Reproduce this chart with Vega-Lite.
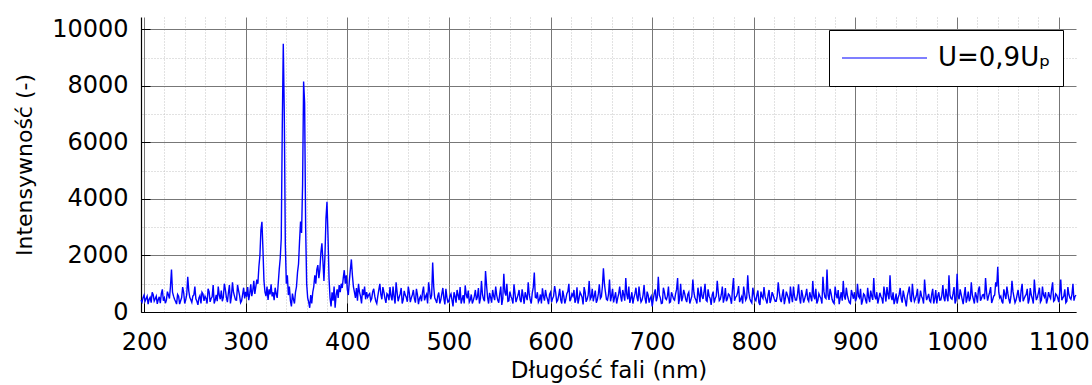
{
"$schema": "https://vega.github.io/schema/vega-lite/v6.json",
"width": 935, "height": 295,
"autosize": {"type": "none"},
"padding": {"left": 141, "top": 17, "right": 16, "bottom": 73},
"background": "white",
"config": {"view": {"stroke": null}, "font": "DejaVu Sans"},
"data": {"values": [
{"nm":197,"I":420},{"nm":199,"I":510},{"nm":201,"I":380},{"nm":203,"I":560},{"nm":205,"I":450},{"nm":207,"I":330},{"nm":209,"I":610},{"nm":211,"I":470},{"nm":213,"I":290},{"nm":215,"I":540},{"nm":217,"I":650},{"nm":219,"I":400},{"nm":221,"I":310},{"nm":223,"I":720},{"nm":225,"I":480},{"nm":227,"I":1500},{"nm":229,"I":560},{"nm":231,"I":370},{"nm":233,"I":620},{"nm":235,"I":280},{"nm":237,"I":510},{"nm":239,"I":690},{"nm":241,"I":430},{"nm":243,"I":1250},{"nm":245,"I":520},{"nm":247,"I":340},{"nm":249,"I":600},{"nm":251,"I":470},{"nm":253,"I":250},{"nm":255,"I":580},{"nm":257,"I":700},{"nm":259,"I":390},{"nm":261,"I":480},{"nm":263,"I":820},{"nm":265,"I":360},{"nm":267,"I":540},{"nm":269,"I":300},{"nm":271,"I":610},{"nm":273,"I":900},{"nm":275,"I":450},{"nm":277,"I":380},{"nm":279,"I":1000},{"nm":281,"I":520},{"nm":283,"I":680},{"nm":285,"I":300},{"nm":287,"I":1050},{"nm":289,"I":560},{"nm":291,"I":420},{"nm":293,"I":760},{"nm":295,"I":330},{"nm":297,"I":620},{"nm":299,"I":480},
{"nm":300,"I":710},{"nm":301,"I":540},{"nm":302,"I":880},{"nm":303,"I":420},{"nm":304,"I":650},{"nm":305,"I":980},{"nm":306,"I":560},{"nm":307,"I":760},{"nm":308,"I":1100},{"nm":309,"I":640},{"nm":310,"I":900},{"nm":311,"I":1150},{"nm":312,"I":1000},{"nm":313,"I":1600},{"nm":314,"I":2000},{"nm":315,"I":2900},{"nm":316,"I":3190},{"nm":317,"I":2200},{"nm":318,"I":1100},{"nm":319,"I":700},{"nm":320,"I":560},{"nm":321,"I":900},{"nm":322,"I":430},{"nm":323,"I":800},{"nm":324,"I":620},{"nm":325,"I":980},{"nm":326,"I":550},{"nm":327,"I":700},{"nm":328,"I":420},{"nm":329,"I":860},{"nm":330,"I":640},{"nm":331,"I":500},{"nm":332,"I":1000},{"nm":333,"I":1500},{"nm":334,"I":1900},{"nm":335,"I":2600},{"nm":336,"I":6500},{"nm":337,"I":9490},{"nm":338,"I":7000},{"nm":339,"I":2400},{"nm":340,"I":1000},{"nm":341,"I":1300},{"nm":342,"I":600},{"nm":343,"I":900},{"nm":344,"I":400},{"nm":345,"I":200},{"nm":346,"I":650},{"nm":347,"I":450},{"nm":348,"I":300},{"nm":349,"I":700},{"nm":350,"I":900},{"nm":351,"I":1400},{"nm":352,"I":1700},{"nm":353,"I":2500},{"nm":354,"I":3200},{"nm":355,"I":2800},{"nm":356,"I":4500},{"nm":357,"I":8160},{"nm":358,"I":7400},{"nm":359,"I":3000},{"nm":360,"I":1000},{"nm":361,"I":500},{"nm":362,"I":350},{"nm":363,"I":150},{"nm":364,"I":600},{"nm":365,"I":300},{"nm":366,"I":700},{"nm":367,"I":900},{"nm":368,"I":1300},{"nm":369,"I":1000},{"nm":370,"I":1500},{"nm":371,"I":1660},{"nm":372,"I":1200},{"nm":373,"I":1500},{"nm":374,"I":2100},{"nm":375,"I":2430},{"nm":376,"I":1800},{"nm":377,"I":1100},{"nm":378,"I":2000},{"nm":379,"I":3300},{"nm":380,"I":3900},{"nm":381,"I":2700},{"nm":382,"I":1200},{"nm":383,"I":500},{"nm":384,"I":200},{"nm":385,"I":700},{"nm":386,"I":400},{"nm":387,"I":900},{"nm":388,"I":150},{"nm":389,"I":600},{"nm":390,"I":800},{"nm":391,"I":500},{"nm":392,"I":950},{"nm":393,"I":700},{"nm":394,"I":1000},{"nm":395,"I":850},{"nm":396,"I":1200},{"nm":397,"I":1480},{"nm":398,"I":1000},{"nm":399,"I":1300},{"nm":400,"I":800},{"nm":401,"I":600},{"nm":402,"I":1100},{"nm":403,"I":1500},{"nm":404,"I":1860},{"nm":405,"I":1300},{"nm":406,"I":900},{"nm":407,"I":700},{"nm":408,"I":500},{"nm":409,"I":850},{"nm":410,"I":400},{"nm":411,"I":1000},{"nm":412,"I":700},{"nm":413,"I":550},{"nm":414,"I":300},{"nm":415,"I":800},{"nm":416,"I":600},{"nm":417,"I":900},{"nm":418,"I":450},{"nm":419,"I":700},{"nm":420,"I":520},
{"nm":422,"I":650},{"nm":424,"I":480},{"nm":426,"I":820},{"nm":428,"I":390},{"nm":430,"I":560},{"nm":432,"I":1000},{"nm":434,"I":450},{"nm":436,"I":700},{"nm":438,"I":320},{"nm":440,"I":600},{"nm":442,"I":880},{"nm":444,"I":410},{"nm":446,"I":530},{"nm":448,"I":1050},{"nm":450,"I":380},{"nm":452,"I":640},{"nm":454,"I":300},{"nm":456,"I":750},{"nm":458,"I":520},{"nm":460,"I":900},{"nm":462,"I":350},{"nm":464,"I":610},{"nm":466,"I":470},{"nm":468,"I":820},{"nm":470,"I":280},
{"nm":472,"I":560},{"nm":474,"I":700},{"nm":476,"I":410},{"nm":478,"I":630},{"nm":480,"I":1050},{"nm":482,"I":450},{"nm":484,"I":1750},{"nm":486,"I":500},{"nm":488,"I":320},{"nm":490,"I":690},{"nm":492,"I":430},{"nm":494,"I":850},{"nm":496,"I":270},{"nm":498,"I":520},{"nm":500,"I":380},{"nm":502,"I":640},{"nm":504,"I":200},{"nm":506,"I":560},{"nm":508,"I":780},{"nm":510,"I":420},{"nm":512,"I":300},{"nm":514,"I":600},{"nm":516,"I":940},{"nm":518,"I":480},{"nm":520,"I":350},
{"nm":522,"I":620},{"nm":524,"I":410},{"nm":526,"I":780},{"nm":528,"I":530},{"nm":530,"I":300},{"nm":532,"I":1100},{"nm":534,"I":460},{"nm":536,"I":1450},{"nm":538,"I":520},{"nm":540,"I":680},{"nm":542,"I":330},{"nm":544,"I":560},{"nm":546,"I":900},{"nm":548,"I":420},{"nm":550,"I":640},{"nm":552,"I":250},{"nm":554,"I":1350},{"nm":556,"I":580},{"nm":558,"I":380},{"nm":560,"I":720},{"nm":562,"I":460},{"nm":564,"I":980},{"nm":566,"I":350},{"nm":568,"I":600},{"nm":570,"I":430},
{"nm":572,"I":800},{"nm":574,"I":290},{"nm":576,"I":550},{"nm":578,"I":1050},{"nm":580,"I":430},{"nm":582,"I":680},{"nm":584,"I":1400},{"nm":586,"I":500},{"nm":588,"I":350},{"nm":590,"I":620},{"nm":592,"I":840},{"nm":594,"I":400},{"nm":596,"I":560},{"nm":598,"I":280},{"nm":600,"I":700},{"nm":602,"I":480},{"nm":604,"I":920},{"nm":606,"I":360},{"nm":608,"I":590},{"nm":610,"I":430},{"nm":612,"I":760},{"nm":614,"I":300},{"nm":616,"I":650},{"nm":618,"I":1000},{"nm":620,"I":470},
{"nm":622,"I":560},{"nm":624,"I":330},{"nm":626,"I":870},{"nm":628,"I":480},{"nm":630,"I":620},{"nm":632,"I":270},{"nm":634,"I":700},{"nm":636,"I":450},{"nm":638,"I":1100},{"nm":640,"I":520},{"nm":642,"I":380},{"nm":644,"I":760},{"nm":646,"I":430},{"nm":648,"I":980},{"nm":650,"I":540},{"nm":652,"I":1550},{"nm":654,"I":700},{"nm":656,"I":420},{"nm":658,"I":1150},{"nm":660,"I":560},{"nm":662,"I":340},{"nm":664,"I":700},{"nm":666,"I":480},{"nm":668,"I":900},{"nm":670,"I":370},
{"nm":672,"I":610},{"nm":674,"I":1200},{"nm":676,"I":450},{"nm":678,"I":320},{"nm":680,"I":700},{"nm":682,"I":500},{"nm":684,"I":860},{"nm":686,"I":380},{"nm":688,"I":560},{"nm":690,"I":420},{"nm":692,"I":950},{"nm":694,"I":300},{"nm":696,"I":600},{"nm":698,"I":480},{"nm":700,"I":200},{"nm":702,"I":650},{"nm":704,"I":380},{"nm":706,"I":1250},{"nm":708,"I":500},{"nm":710,"I":320},{"nm":712,"I":700},{"nm":714,"I":440},{"nm":716,"I":900},{"nm":718,"I":360},{"nm":720,"I":580},
{"nm":722,"I":420},{"nm":724,"I":800},{"nm":726,"I":280},{"nm":728,"I":1000},{"nm":730,"I":520},{"nm":732,"I":640},{"nm":734,"I":350},{"nm":736,"I":700},{"nm":738,"I":430},{"nm":740,"I":1150},{"nm":742,"I":500},{"nm":744,"I":300},{"nm":746,"I":620},{"nm":748,"I":900},{"nm":750,"I":460},{"nm":752,"I":1000},{"nm":754,"I":380},{"nm":756,"I":560},{"nm":758,"I":250},{"nm":760,"I":720},{"nm":762,"I":480},{"nm":764,"I":1100},{"nm":766,"I":400},{"nm":768,"I":620},{"nm":770,"I":330},
{"nm":772,"I":850},{"nm":774,"I":470},{"nm":776,"I":600},{"nm":778,"I":290},{"nm":780,"I":1200},{"nm":782,"I":520},{"nm":784,"I":680},{"nm":786,"I":350},{"nm":788,"I":540},{"nm":790,"I":900},{"nm":792,"I":420},{"nm":794,"I":1300},{"nm":796,"I":480},{"nm":798,"I":320},{"nm":800,"I":640},{"nm":802,"I":400},{"nm":804,"I":760},{"nm":806,"I":250},{"nm":808,"I":550},{"nm":810,"I":880},{"nm":812,"I":430},{"nm":814,"I":600},{"nm":816,"I":320},{"nm":818,"I":700},{"nm":820,"I":480},
{"nm":822,"I":380},{"nm":824,"I":1050},{"nm":826,"I":450},{"nm":828,"I":600},{"nm":830,"I":280},{"nm":832,"I":720},{"nm":834,"I":480},{"nm":836,"I":900},{"nm":838,"I":350},{"nm":840,"I":560},{"nm":842,"I":420},{"nm":844,"I":980},{"nm":846,"I":300},{"nm":848,"I":600},{"nm":850,"I":470},{"nm":852,"I":820},{"nm":854,"I":380},{"nm":856,"I":540},{"nm":858,"I":1100},{"nm":860,"I":450},{"nm":862,"I":300},{"nm":864,"I":650},{"nm":866,"I":480},{"nm":868,"I":1250},{"nm":870,"I":520},
{"nm":872,"I":1500},{"nm":874,"I":430},{"nm":876,"I":660},{"nm":878,"I":350},{"nm":880,"I":900},{"nm":882,"I":480},{"nm":884,"I":280},{"nm":886,"I":700},{"nm":888,"I":1100},{"nm":890,"I":440},{"nm":892,"I":600},{"nm":894,"I":330},{"nm":896,"I":780},{"nm":898,"I":470},{"nm":900,"I":380},{"nm":902,"I":1000},{"nm":904,"I":500},{"nm":906,"I":260},{"nm":908,"I":640},{"nm":910,"I":420},{"nm":912,"I":860},{"nm":914,"I":350},{"nm":916,"I":560},{"nm":918,"I":1200},{"nm":920,"I":450},
{"nm":922,"I":300},{"nm":924,"I":680},{"nm":926,"I":480},{"nm":928,"I":900},{"nm":930,"I":370},{"nm":932,"I":620},{"nm":934,"I":1300},{"nm":936,"I":420},{"nm":938,"I":280},{"nm":940,"I":650},{"nm":942,"I":500},{"nm":944,"I":850},{"nm":946,"I":330},{"nm":948,"I":560},{"nm":950,"I":200},{"nm":952,"I":720},{"nm":954,"I":460},{"nm":956,"I":1000},{"nm":958,"I":380},{"nm":960,"I":590},{"nm":962,"I":300},{"nm":964,"I":760},{"nm":966,"I":480},{"nm":968,"I":1150},{"nm":970,"I":420},
{"nm":972,"I":640},{"nm":974,"I":350},{"nm":976,"I":820},{"nm":978,"I":470},{"nm":980,"I":300},{"nm":982,"I":700},{"nm":984,"I":430},{"nm":986,"I":950},{"nm":988,"I":380},{"nm":990,"I":560},{"nm":992,"I":1300},{"nm":994,"I":480},{"nm":996,"I":650},{"nm":998,"I":300},{"nm":1000,"I":1350},{"nm":1002,"I":450},{"nm":1004,"I":620},{"nm":1006,"I":280},{"nm":1008,"I":880},{"nm":1010,"I":500},{"nm":1012,"I":380},{"nm":1014,"I":1050},{"nm":1016,"I":460},{"nm":1018,"I":700},{"nm":1020,"I":330},
{"nm":1022,"I":900},{"nm":1024,"I":480},{"nm":1026,"I":620},{"nm":1028,"I":1200},{"nm":1030,"I":400},{"nm":1032,"I":700},{"nm":1034,"I":320},{"nm":1036,"I":560},{"nm":1038,"I":1050},{"nm":1040,"I":1600},{"nm":1042,"I":500},{"nm":1044,"I":380},{"nm":1046,"I":800},{"nm":1048,"I":460},{"nm":1050,"I":650},{"nm":1052,"I":300},{"nm":1054,"I":1100},{"nm":1056,"I":520},{"nm":1058,"I":420},{"nm":1060,"I":780},{"nm":1062,"I":350},{"nm":1064,"I":1000},{"nm":1066,"I":480},{"nm":1068,"I":620},{"nm":1070,"I":300},
{"nm":1072,"I":850},{"nm":1074,"I":470},{"nm":1076,"I":1150},{"nm":1078,"I":420},{"nm":1080,"I":680},{"nm":1082,"I":350},{"nm":1084,"I":900},{"nm":1086,"I":520},{"nm":1088,"I":300},{"nm":1090,"I":700},{"nm":1092,"I":480},{"nm":1094,"I":1050},{"nm":1096,"I":420},{"nm":1098,"I":600},{"nm":1100,"I":350},{"nm":1102,"I":1150},{"nm":1104,"I":500},{"nm":1106,"I":800},{"nm":1108,"I":380},{"nm":1110,"I":620},{"nm":1112,"I":450},{"nm":1114,"I":1000},{"nm":1116,"I":550},
{"nm":198,"I":350},{"nm":200,"I":600},{"nm":202,"I":470},{"nm":204,"I":280},{"nm":206,"I":520},{"nm":208,"I":700},{"nm":210,"I":390},{"nm":212,"I":560},{"nm":214,"I":440},{"nm":216,"I":310},{"nm":218,"I":800},{"nm":220,"I":500},{"nm":222,"I":420},{"nm":224,"I":600},{"nm":226,"I":900},{"nm":228,"I":700},{"nm":230,"I":450},{"nm":232,"I":280},{"nm":234,"I":560},{"nm":236,"I":400},{"nm":238,"I":880},{"nm":240,"I":300},{"nm":242,"I":620},{"nm":244,"I":750},{"nm":246,"I":430},{"nm":248,"I":560},{"nm":250,"I":900},{"nm":252,"I":380},{"nm":254,"I":500},{"nm":256,"I":300},{"nm":258,"I":640},{"nm":260,"I":560},{"nm":262,"I":300},{"nm":264,"I":720},{"nm":266,"I":480},{"nm":268,"I":950},{"nm":270,"I":420},{"nm":272,"I":380},{"nm":274,"I":600},{"nm":276,"I":760},{"nm":278,"I":520},{"nm":280,"I":800},{"nm":282,"I":350},{"nm":284,"I":950},{"nm":286,"I":560},{"nm":288,"I":700},{"nm":290,"I":430},{"nm":292,"I":960},{"nm":294,"I":580},{"nm":296,"I":400},{"nm":298,"I":860},
{"nm":421,"I":600},{"nm":423,"I":400},{"nm":425,"I":720},{"nm":427,"I":560},{"nm":429,"I":300},{"nm":431,"I":780},{"nm":433,"I":620},{"nm":435,"I":880},{"nm":437,"I":480},{"nm":439,"I":650},{"nm":441,"I":420},{"nm":443,"I":560},{"nm":445,"I":900},{"nm":447,"I":300},{"nm":449,"I":700},{"nm":451,"I":520},{"nm":453,"I":850},{"nm":455,"I":430},{"nm":457,"I":600},{"nm":459,"I":360},{"nm":461,"I":680},{"nm":463,"I":500},{"nm":465,"I":780},{"nm":467,"I":330},{"nm":469,"I":620},{"nm":471,"I":480},
{"nm":473,"I":380},{"nm":475,"I":900},{"nm":477,"I":550},{"nm":479,"I":300},{"nm":481,"I":760},{"nm":483,"I":600},{"nm":485,"I":900},{"nm":487,"I":420},{"nm":489,"I":560},{"nm":491,"I":300},{"nm":493,"I":640},{"nm":495,"I":480},{"nm":497,"I":820},{"nm":499,"I":350},{"nm":501,"I":560},{"nm":503,"I":420},{"nm":505,"I":700},{"nm":507,"I":330},{"nm":509,"I":600},{"nm":511,"I":880},{"nm":513,"I":450},{"nm":515,"I":300},{"nm":517,"I":620},{"nm":519,"I":760},{"nm":521,"I":430},
{"nm":523,"I":300},{"nm":525,"I":560},{"nm":527,"I":420},{"nm":529,"I":850},{"nm":531,"I":480},{"nm":533,"I":620},{"nm":535,"I":380},{"nm":537,"I":950},{"nm":539,"I":300},{"nm":541,"I":520},{"nm":543,"I":780},{"nm":545,"I":420},{"nm":547,"I":600},{"nm":549,"I":330},{"nm":551,"I":900},{"nm":553,"I":480},{"nm":555,"I":700},{"nm":557,"I":1000},{"nm":559,"I":400},{"nm":561,"I":560},{"nm":563,"I":300},{"nm":565,"I":650},{"nm":567,"I":480},{"nm":569,"I":780},{"nm":571,"I":350},
{"nm":573,"I":560},{"nm":575,"I":700},{"nm":577,"I":420},{"nm":579,"I":620},{"nm":581,"I":300},{"nm":583,"I":880},{"nm":585,"I":520},{"nm":587,"I":700},{"nm":589,"I":430},{"nm":591,"I":300},{"nm":593,"I":560},{"nm":595,"I":780},{"nm":597,"I":450},{"nm":599,"I":620},{"nm":601,"I":350},{"nm":603,"I":560},{"nm":605,"I":700},{"nm":607,"I":420},{"nm":609,"I":820},{"nm":611,"I":300},{"nm":613,"I":560},{"nm":615,"I":450},{"nm":617,"I":720},{"nm":619,"I":380},{"nm":621,"I":640},
{"nm":623,"I":780},{"nm":625,"I":450},{"nm":627,"I":300},{"nm":629,"I":700},{"nm":631,"I":520},{"nm":633,"I":880},{"nm":635,"I":360},{"nm":637,"I":600},{"nm":639,"I":450},{"nm":641,"I":820},{"nm":643,"I":560},{"nm":645,"I":330},{"nm":647,"I":640},{"nm":649,"I":480},{"nm":651,"I":900},{"nm":653,"I":1000},{"nm":655,"I":450},{"nm":657,"I":620},{"nm":659,"I":380},{"nm":661,"I":820},{"nm":663,"I":520},{"nm":665,"I":300},{"nm":667,"I":640},{"nm":669,"I":560},{"nm":671,"I":780},
{"nm":673,"I":400},{"nm":675,"I":620},{"nm":677,"I":900},{"nm":679,"I":480},{"nm":681,"I":300},{"nm":683,"I":640},{"nm":685,"I":520},{"nm":687,"I":900},{"nm":689,"I":350},{"nm":691,"I":600},{"nm":693,"I":480},{"nm":695,"I":720},{"nm":697,"I":330},{"nm":699,"I":560},{"nm":701,"I":450},{"nm":703,"I":800},{"nm":705,"I":520},{"nm":707,"I":600},{"nm":709,"I":300},{"nm":711,"I":860},{"nm":713,"I":480},{"nm":715,"I":560},{"nm":717,"I":330},{"nm":719,"I":700},{"nm":721,"I":460},
{"nm":723,"I":640},{"nm":725,"I":1200},{"nm":727,"I":500},{"nm":729,"I":380},{"nm":731,"I":780},{"nm":733,"I":450},{"nm":735,"I":620},{"nm":737,"I":300},{"nm":739,"I":560},{"nm":741,"I":700},{"nm":743,"I":430},{"nm":745,"I":860},{"nm":747,"I":350},{"nm":749,"I":560},{"nm":751,"I":700},{"nm":753,"I":420},{"nm":755,"I":800},{"nm":757,"I":480},{"nm":759,"I":600},{"nm":761,"I":330},{"nm":763,"I":560},{"nm":765,"I":700},{"nm":767,"I":450},{"nm":769,"I":900},{"nm":771,"I":500},
{"nm":773,"I":380},{"nm":775,"I":640},{"nm":777,"I":480},{"nm":779,"I":820},{"nm":781,"I":400},{"nm":783,"I":560},{"nm":785,"I":920},{"nm":787,"I":450},{"nm":789,"I":300},{"nm":791,"I":640},{"nm":793,"I":500},{"nm":795,"I":700},{"nm":797,"I":380},{"nm":799,"I":860},{"nm":801,"I":450},{"nm":803,"I":600},{"nm":805,"I":330},{"nm":807,"I":720},{"nm":809,"I":480},{"nm":811,"I":560},{"nm":813,"I":300},{"nm":815,"I":780},{"nm":817,"I":450},{"nm":819,"I":600},{"nm":821,"I":380},
{"nm":823,"I":560},{"nm":825,"I":700},{"nm":827,"I":350},{"nm":829,"I":800},{"nm":831,"I":480},{"nm":833,"I":600},{"nm":835,"I":300},{"nm":837,"I":560},{"nm":839,"I":900},{"nm":841,"I":420},{"nm":843,"I":640},{"nm":845,"I":500},{"nm":847,"I":780},{"nm":849,"I":330},{"nm":851,"I":600},{"nm":853,"I":450},{"nm":855,"I":700},{"nm":857,"I":380},{"nm":859,"I":560},{"nm":861,"I":820},{"nm":863,"I":400},{"nm":865,"I":560},{"nm":867,"I":300},{"nm":869,"I":720},{"nm":871,"I":480},
{"nm":873,"I":600},{"nm":875,"I":820},{"nm":877,"I":450},{"nm":879,"I":300},{"nm":881,"I":620},{"nm":883,"I":780},{"nm":885,"I":500},{"nm":887,"I":400},{"nm":889,"I":560},{"nm":891,"I":860},{"nm":893,"I":450},{"nm":895,"I":300},{"nm":897,"I":620},{"nm":899,"I":700},{"nm":901,"I":480},{"nm":903,"I":560},{"nm":905,"I":820},{"nm":907,"I":400},{"nm":909,"I":600},{"nm":911,"I":300},{"nm":913,"I":520},{"nm":915,"I":760},{"nm":917,"I":430},{"nm":919,"I":560},{"nm":921,"I":700},
{"nm":923,"I":480},{"nm":925,"I":560},{"nm":927,"I":300},{"nm":929,"I":640},{"nm":931,"I":880},{"nm":933,"I":450},{"nm":935,"I":560},{"nm":937,"I":700},{"nm":939,"I":430},{"nm":941,"I":300},{"nm":943,"I":620},{"nm":945,"I":480},{"nm":947,"I":760},{"nm":949,"I":400},{"nm":951,"I":560},{"nm":953,"I":900},{"nm":955,"I":350},{"nm":957,"I":600},{"nm":959,"I":480},{"nm":961,"I":820},{"nm":963,"I":430},{"nm":965,"I":560},{"nm":967,"I":300},{"nm":969,"I":700},{"nm":971,"I":520},
{"nm":973,"I":400},{"nm":975,"I":620},{"nm":977,"I":300},{"nm":979,"I":780},{"nm":981,"I":560},{"nm":983,"I":420},{"nm":985,"I":600},{"nm":987,"I":500},{"nm":989,"I":820},{"nm":991,"I":380},{"nm":993,"I":600},{"nm":995,"I":450},{"nm":997,"I":880},{"nm":999,"I":420},{"nm":1001,"I":560},{"nm":1003,"I":800},{"nm":1005,"I":450},{"nm":1007,"I":600},{"nm":1009,"I":330},{"nm":1011,"I":720},{"nm":1013,"I":480},{"nm":1015,"I":600},{"nm":1017,"I":300},{"nm":1019,"I":560},{"nm":1021,"I":780},
{"nm":1023,"I":400},{"nm":1025,"I":600},{"nm":1027,"I":450},{"nm":1029,"I":700},{"nm":1031,"I":560},{"nm":1033,"I":880},{"nm":1035,"I":430},{"nm":1037,"I":600},{"nm":1039,"I":900},{"nm":1041,"I":700},{"nm":1043,"I":560},{"nm":1045,"I":300},{"nm":1047,"I":620},{"nm":1049,"I":900},{"nm":1051,"I":450},{"nm":1053,"I":560},{"nm":1055,"I":720},{"nm":1057,"I":330},{"nm":1059,"I":600},{"nm":1061,"I":500},{"nm":1063,"I":760},{"nm":1065,"I":380},{"nm":1067,"I":560},{"nm":1069,"I":820},{"nm":1071,"I":450},
{"nm":1073,"I":600},{"nm":1075,"I":300},{"nm":1077,"I":700},{"nm":1079,"I":520},{"nm":1081,"I":860},{"nm":1083,"I":420},{"nm":1085,"I":600},{"nm":1087,"I":700},{"nm":1089,"I":450},{"nm":1091,"I":560},{"nm":1093,"I":800},{"nm":1095,"I":380},{"nm":1097,"I":640},{"nm":1099,"I":500},{"nm":1101,"I":700},{"nm":1103,"I":420},{"nm":1105,"I":560},{"nm":1107,"I":330},{"nm":1109,"I":880},{"nm":1111,"I":500},{"nm":1113,"I":620},{"nm":1115,"I":400},{"nm":1117,"I":600}
]},
"layer": [
{
"mark": {"type": "line", "opacity": 0},
"encoding": {
"x": {"field": "nm", "type": "quantitative",
"scale": {"domain": [197, 1117], "nice": false, "zero": false},
"axis": {"orient": "top", "values": [220,240,260,280,320,340,360,380,420,440,460,480,520,540,560,580,620,640,660,680,720,740,760,780,820,840,860,880,920,940,960,980,1020,1040,1060,1080],
"grid": true, "gridColor": "#c4c4c4", "gridDash": [1, 2], "gridWidth": 1,
"labels": false, "ticks": false, "domain": false, "title": null}},
"y": {"field": "I", "type": "quantitative",
"scale": {"domain": [0, 10440], "nice": false},
"axis": {"orient": "right", "values": [1000,3000,5000,7000,9000],
"grid": true, "gridColor": "#c4c4c4", "gridDash": [1, 2], "gridWidth": 1,
"labels": false, "ticks": false, "domain": false, "title": null}}
}
},
{
"mark": {"type": "line", "stroke": "#0000ff", "strokeWidth": 1.4},
"encoding": {
"x": {"field": "nm", "type": "quantitative",
"scale": {"domain": [197, 1117], "nice": false, "zero": false},
"axis": {"orient": "bottom", "values": [200,300,400,500,600,700,800,900,1000,1100], "format": "d",
"grid": true, "gridColor": "#777777", "gridWidth": 1,
"domain": true, "domainColor": "#000000", "domainWidth": 1.2,
"ticks": true, "tickColor": "#000000", "tickSize": -9,
"labelFont": "DejaVu Sans", "labelFontSize": 24, "labelColor": "#000000", "labelPadding": 27, "labelFlush": false,
"title": "Długość fali (nm)", "titleFont": "DejaVu Sans", "titleFontSize": 23, "titleFontWeight": "normal", "titleColor": "#000000", "titlePadding": 5}},
"y": {"field": "I", "type": "quantitative",
"scale": {"domain": [0, 10440], "nice": false},
"axis": {"orient": "left", "values": [0,2000,4000,6000,8000,10000], "format": "d",
"grid": true, "gridColor": "#777777", "gridWidth": 1,
"domain": true, "domainColor": "#000000", "domainWidth": 1.2,
"ticks": true, "tickColor": "#000000", "tickSize": -9,
"labelFont": "DejaVu Sans", "labelFontSize": 24, "labelColor": "#000000", "labelPadding": 22, "labelFlush": false,
"title": "Intensywność (-)", "titleFont": "DejaVu Sans", "titleFontSize": 22, "titleFontWeight": "normal", "titleColor": "#000000", "titlePadding": 15}},
"color": {"datum": "U=0,9Uₚ", "type": "nominal",
"scale": {"range": ["#0000ff"]},
"legend": {"orient": "top-right", "offset": 13, "title": null,
"strokeColor": "#000000", "fillColor": "#ffffff", "padding": 12, "clipHeight": 32,
"symbolType": "stroke", "symbolSize": 7225, "symbolStrokeWidth": 1.2, "symbolStrokeColor": "#0000ff",
"labelFont": "DejaVu Sans", "labelFontSize": 26, "labelColor": "#000000", "labelOffset": 10, "labelLimit": 300}}
}
}
],
"resolve": {"axis": {"x": "independent", "y": "independent"}}
}
